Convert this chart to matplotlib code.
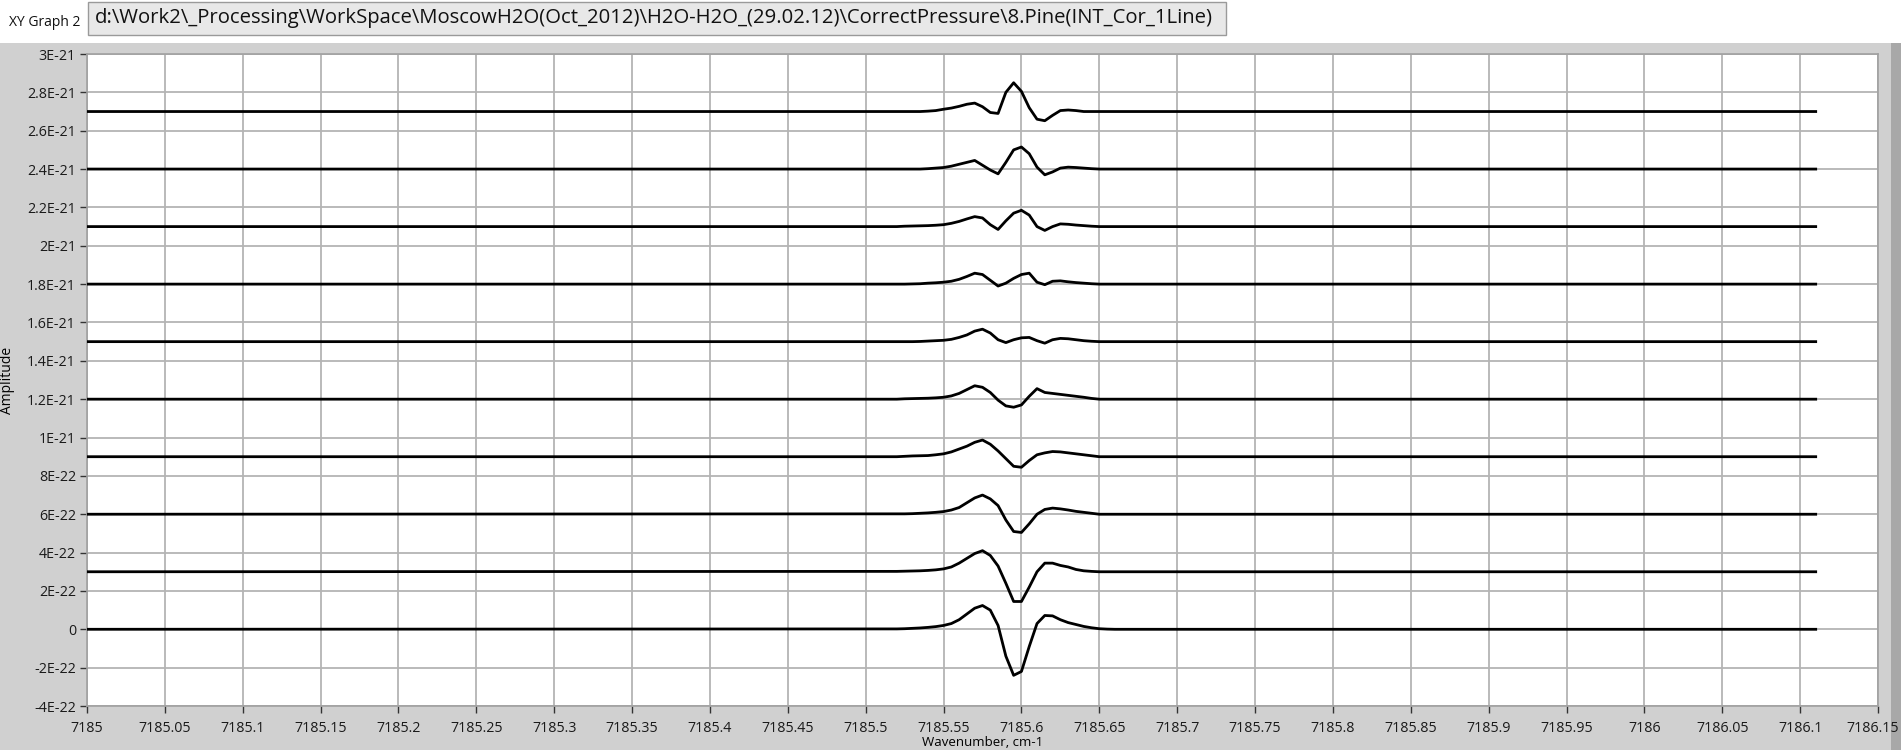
import matplotlib
matplotlib.use("Agg")
import matplotlib.pyplot as plt
from matplotlib.patches import Rectangle
from matplotlib.transforms import ScaledTranslation

plt.rcParams['font.family'] = ['Open Sans', 'DejaVu Sans']

# trace offsets (amplitude units)
offsets = [0, 3e-22, 6e-22, 9e-22, 1.2e-21, 1.5e-21, 1.8e-21, 2.1e-21, 2.4e-21, 2.7e-21]

# wavenumber grid around the line centre
x_line = [7185.52, 7185.525, 7185.53, 7185.535, 7185.54, 7185.545, 7185.55, 7185.555,
          7185.56, 7185.565, 7185.57, 7185.575, 7185.58, 7185.585, 7185.59, 7185.595,
          7185.60, 7185.605, 7185.61, 7185.615, 7185.62, 7185.625, 7185.63, 7185.635,
          7185.64, 7185.645, 7185.65, 7185.655, 7185.66]
x_start = 7185.0
x_end = 7186.11

# residuals in units of 1E-22, bottom trace first
dev_1 = [0.02, 0.03, 0.05, 0.07, 0.10, 0.14, 0.20, 0.30, 0.50, 0.80, 1.10, 1.24, 1.00, 0.20, -1.40,
         -2.40, -2.20, -0.90, 0.30, 0.72, 0.70, 0.50, 0.35, 0.25, 0.15, 0.08, 0.03, 0.01, 0]
dev_2 = [0.02, 0.03, 0.04, 0.05, 0.07, 0.10, 0.15, 0.25, 0.45, 0.70, 0.95, 1.10, 0.85, 0.30, -0.60,
         -1.55, -1.55, -0.80, 0.00, 0.45, 0.45, 0.33, 0.25, 0.12, 0.05, 0.02, 0, 0, 0]
dev_3 = [0.02, 0.02, 0.03, 0.05, 0.07, 0.10, 0.14, 0.22, 0.35, 0.60, 0.85, 1.00, 0.80, 0.45, -0.30,
         -0.90, -0.95, -0.50, 0.00, 0.25, 0.32, 0.28, 0.22, 0.15, 0.10, 0.05, 0, 0, 0]
dev_4 = [0, 0.02, 0.04, 0.05, 0.06, 0.10, 0.15, 0.25, 0.40, 0.55, 0.75, 0.87, 0.65, 0.30, -0.10,
         -0.50, -0.55, -0.20, 0.10, 0.20, 0.27, 0.25, 0.20, 0.15, 0.10, 0.05, 0, 0, 0]
dev_5 = [0, 0.02, 0.03, 0.04, 0.05, 0.07, 0.10, 0.17, 0.30, 0.50, 0.70, 0.62, 0.35, -0.05, -0.35,
         -0.42, -0.30, 0.15, 0.55, 0.35, 0.30, 0.25, 0.20, 0.15, 0.10, 0.04, 0, 0, 0]
dev_6 = [0, 0, 0, 0.01, 0.03, 0.05, 0.07, 0.12, 0.22, 0.35, 0.55, 0.65, 0.45, 0.10, -0.05,
         0.10, 0.20, 0.22, 0.05, -0.08, 0.10, 0.17, 0.15, 0.10, 0.05, 0.02, 0, 0, 0]
dev_7 = [0, 0, 0.01, 0.02, 0.05, 0.07, 0.10, 0.15, 0.25, 0.40, 0.57, 0.50, 0.20, -0.10, 0.05,
         0.30, 0.50, 0.57, 0.10, -0.03, 0.15, 0.17, 0.12, 0.08, 0.05, 0.02, 0, 0, 0]
dev_8 = [0, 0.02, 0.03, 0.04, 0.05, 0.07, 0.10, 0.17, 0.27, 0.40, 0.52, 0.45, 0.10, -0.15, 0.30,
         0.70, 0.85, 0.60, 0.00, -0.20, 0.00, 0.14, 0.12, 0.08, 0.05, 0.02, 0, 0, 0]
dev_9 = [0, 0, 0, 0, 0.02, 0.05, 0.08, 0.15, 0.25, 0.35, 0.45, 0.20, -0.05, -0.25, 0.35,
         1.00, 1.15, 0.80, 0.10, -0.30, -0.15, 0.05, 0.10, 0.08, 0.05, 0.02, 0, 0, 0]
dev_10 = [0, 0, 0, 0, 0.02, 0.05, 0.12, 0.18, 0.27, 0.38, 0.44, 0.25, -0.05, -0.10, 1.00,
          1.50, 1.05, 0.20, -0.40, -0.48, -0.20, 0.05, 0.08, 0.05, 0, 0, 0, 0, 0]
devs = [dev_1, dev_2, dev_3, dev_4, dev_5, dev_6, dev_7, dev_8, dev_9, dev_10]

x_ticks = [7185, 7185.05, 7185.1, 7185.15, 7185.2, 7185.25, 7185.3, 7185.35, 7185.4, 7185.45,
           7185.5, 7185.55, 7185.6, 7185.65, 7185.7, 7185.75, 7185.8, 7185.85, 7185.9, 7185.95,
           7186, 7186.05, 7186.1, 7186.15]
x_labels = ['7185', '7185.05', '7185.1', '7185.15', '7185.2', '7185.25', '7185.3', '7185.35',
            '7185.4', '7185.45', '7185.5', '7185.55', '7185.6', '7185.65', '7185.7', '7185.75',
            '7185.8', '7185.85', '7185.9', '7185.95', '7186', '7186.05', '7186.1', '7186.15']
y_ticks = [-4e-22, -2e-22, 0, 2e-22, 4e-22, 6e-22, 8e-22, 1e-21, 1.2e-21, 1.4e-21, 1.6e-21,
           1.8e-21, 2e-21, 2.2e-21, 2.4e-21, 2.6e-21, 2.8e-21, 3e-21]
y_labels = ['-4E-22', '-2E-22', '0', '2E-22', '4E-22', '6E-22', '8E-22', '1E-21', '1.2E-21',
            '1.4E-21', '1.6E-21', '1.8E-21', '2E-21', '2.2E-21', '2.4E-21', '2.6E-21',
            '2.8E-21', '3E-21']

title_path = r'd:\Work2\_Processing\WorkSpace\MoscowH2O(Oct_2012)\H2O-H2O_(29.02.12)\CorrectPressure\8.Pine(INT_Cor_1Line)'

W, H = 1901, 750
fig = plt.figure(figsize=(W / 100, H / 100), dpi=100, facecolor='white')

# LabVIEW-ish panel background
fig.patches.append(Rectangle((0, 0), 1891 / W, (H - 43) / H, transform=fig.transFigure,
                             facecolor='#d0d0d0', edgecolor='none', zorder=-5))
fig.patches.append(Rectangle((1891 / W, 0), 10 / W, (H - 43) / H, transform=fig.transFigure,
                             facecolor='#a8a8a8', edgecolor='none', zorder=-5))
# path box on top
fig.patches.append(Rectangle((88 / W, (H - 35) / H), 1138 / W, 33 / H, transform=fig.transFigure,
                             facecolor='#e8e8e8', edgecolor='#9a9a9a', lw=1, zorder=-4))
fig.text(95 / W, (H - 18) / H, title_path, fontsize=14.6, va='center', ha='left', color='#111111')
fig.text(9 / W, (H - 23) / H, 'XY Graph 2', fontsize=10, va='center', ha='left', color='#111111')

ax = fig.add_axes([87 / W, (H - 706) / H, (1878 - 87) / W, (706 - 54) / H])
ax.set_zorder(5)
ax.set_facecolor('white')

for off, dev in zip(offsets, devs):
    xs = [x_start] + x_line + [x_end]
    ys = [off] + [off + d * 1e-22 for d in dev] + [off]
    ax.plot(xs, ys, color='black', lw=2.0, solid_joinstyle='round', zorder=3)

ax.set_xlim(7185, 7186.15)
ax.set_ylim(-4e-22, 3e-21)
ax.set_xticks(x_ticks)
ax.set_xticklabels(x_labels)
ax.set_yticks(y_ticks)
ax.set_yticklabels(y_labels)
ax.grid(True, color='#b4b4b4', lw=1.3, zorder=1)
ax.tick_params(axis='both', labelsize=10.3, length=5, width=1, color='#333333',
               labelcolor='#1a1a1a')
ax.tick_params(axis='x', pad=6)
ax.tick_params(axis='y', pad=3)
for s in ax.spines.values():
    s.set_color('#a0a0a0')
    s.set_linewidth(1.2)

# keep the last tick label inside the canvas
last = ax.get_xticklabels()[-1]
last.set_transform(last.get_transform() + ScaledTranslation(-5 / 100, 0, fig.dpi_scale_trans))

ax.set_xlabel('Wavenumber, cm-1', fontsize=9.5, labelpad=0)
ax.set_ylabel('Amplitude', fontsize=10)
ax.yaxis.set_label_coords(-72 / (1878 - 87), 0.5)

fig.savefig('out.png', dpi=100, facecolor=fig.get_facecolor())
